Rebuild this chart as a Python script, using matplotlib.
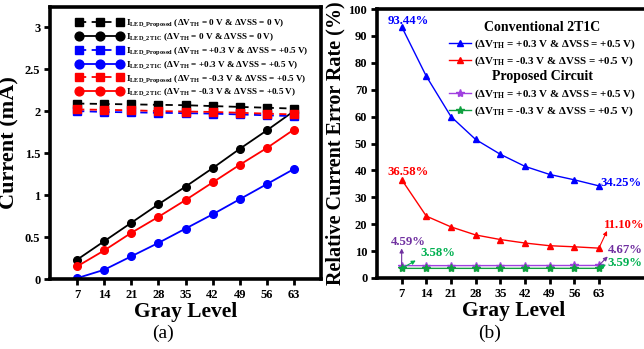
import matplotlib
matplotlib.use("Agg")
import matplotlib.pyplot as plt

plt.rcParams['font.family'] = ['Liberation Serif', 'DejaVu Serif']
plt.rcParams['font.weight'] = 'bold'
plt.rcParams['mathtext.fontset'] = 'custom'
plt.rcParams['mathtext.rm'] = 'Liberation Serif:bold'
plt.rcParams['mathtext.bf'] = 'Liberation Serif:bold'
plt.rcParams['mathtext.it'] = 'Liberation Serif:bold'
plt.rcParams['mathtext.default'] = 'bf'

gray = [7, 14, 21, 28, 35, 42, 49, 56, 63]

# (a) currents in mA
prop_0 = [2.09, 2.085, 2.08, 2.075, 2.07, 2.06, 2.05, 2.04, 2.03]
t2_0 = [0.23, 0.45, 0.67, 0.89, 1.10, 1.32, 1.55, 1.77, 2.00]
prop_p = [2.00, 1.99, 1.985, 1.98, 1.975, 1.97, 1.96, 1.95, 1.94]
t2_p = [0.01, 0.11, 0.27, 0.43, 0.60, 0.77, 0.95, 1.13, 1.31]
prop_n = [2.02, 2.015, 2.01, 2.00, 1.995, 1.99, 1.98, 1.97, 1.96]
t2_n = [0.15, 0.34, 0.55, 0.74, 0.94, 1.15, 1.36, 1.56, 1.78]

# (b) relative current error rate (%)
err_conv_p = [93.44, 75.0, 60.0, 51.5, 46.0, 41.5, 38.5, 36.5, 34.25]
err_conv_n = [36.58, 23.0, 19.0, 16.0, 14.3, 13.0, 12.0, 11.6, 11.10]
err_prop_p = [4.59, 4.6, 4.6, 4.61, 4.62, 4.63, 4.64, 4.65, 4.67]
err_prop_n = [3.58, 3.58, 3.58, 3.58, 3.58, 3.59, 3.59, 3.59, 3.59]

leg_a = [
    r"I$_{LED\_Proposed}$ (ΔV$_{TH}$ = 0 V & ΔVSS = 0 V)",
    r"I$_{LED\_2T1C}$ (ΔV$_{TH}$ = 0 V & ΔVSS = 0 V)",
    r"I$_{LED\_Proposed}$ (ΔV$_{TH}$ = +0.3 V & ΔVSS = +0.5 V)",
    r"I$_{LED\_2T1C}$ (ΔV$_{TH}$ = +0.3 V & ΔVSS = +0.5 V)",
    r"I$_{LED\_Proposed}$ (ΔV$_{TH}$ = -0.3 V & ΔVSS = +0.5 V)",
    r"I$_{LED\_2T1C}$ (ΔV$_{TH}$ = -0.3 V & ΔVSS = +0.5 V)",
]
leg_b = [r"(ΔV$_{TH}$ = +0.3 V & ΔVSS = +0.5 V)",
         r"(ΔV$_{TH}$ = -0.3 V & ΔVSS = +0.5 V)"]

W, H = 644, 349
fig = plt.figure(figsize=(W / 100, H / 100), dpi=100)

def box(l, t, r, b):
    return [l / W, 1 - b / H, (r - l) / W, (b - t) / H]

def style(ax):
    for s in ax.spines.values():
        s.set_linewidth(2.6)
    ax.tick_params(direction='out', length=4, width=2, labelsize=9, pad=3)
    for lab in ax.get_xticklabels() + ax.get_yticklabels():
        lab.set_fontweight('bold')

# ---- panel (a)
ax1 = fig.add_axes(box(50, 7, 321, 279))
ms = 5.5
ax1.plot(gray, prop_0, color='black', ls=(0, (4, 3)), lw=1.3, marker='s', ms=ms, label=leg_a[0])
ax1.plot(gray, t2_0, color='black', ls='-', lw=1.3, marker='o', ms=ms, label=leg_a[1])
ax1.plot(gray, prop_p, color='blue', ls=(0, (4, 3)), lw=1.3, marker='s', ms=ms, label=leg_a[2])
ax1.plot(gray, t2_p, color='blue', ls='-', lw=1.3, marker='o', ms=ms, label=leg_a[3])
ax1.plot(gray, prop_n, color='red', ls=(0, (4, 3)), lw=1.3, marker='s', ms=ms, label=leg_a[4])
ax1.plot(gray, t2_n, color='red', ls='-', lw=1.3, marker='o', ms=ms, label=leg_a[5])
ax1.set_xlim(0, 70)
ax1.set_ylim(0, 3.24)
ax1.set_xticks(gray)
ax1.set_yticks([0, 0.5, 1, 1.5, 2, 2.5, 3])
ax1.set_yticklabels(['0', '0.5', '1', '1.5', '2', '2.5', '3'])
style(ax1)
ax1.set_xlabel('Gray Level', fontsize=15.5, fontweight='bold', labelpad=1)
ax1.set_ylabel('Current (mA)', fontsize=16, fontweight='bold', labelpad=4)
ax1.legend(loc='upper left', bbox_to_anchor=(0.075, 0.985), frameon=False, numpoints=3,
           handlelength=5.0, handletextpad=0.4, labelspacing=0.22, borderpad=0.2,
           markerscale=1.15, prop={'size': 6.6, 'weight': 'bold'})

# ---- panel (b)
ax2 = fig.add_axes(box(377, 9, 650, 278))
l1, = ax2.plot(gray, err_conv_p, color='blue', lw=1.0, marker='^', ms=5)
l2, = ax2.plot(gray, err_conv_n, color='red', lw=1.0, marker='^', ms=5)
l3, = ax2.plot(gray, err_prop_p, color='#A040E0', lw=1.0, marker='*', ms=6)
l4, = ax2.plot(gray, err_prop_n, color='#10A040', lw=1.0, marker='*', ms=6)
ax2.set_xlim(0, 77.5)
ax2.set_ylim(0, 100)
ax2.set_xticks(gray)
ax2.set_yticks(range(0, 101, 10))
style(ax2)
ax2.set_xlabel('Gray Level', fontsize=15.5, fontweight='bold', labelpad=1)
ax2.set_ylabel('Relative Current Error Rate (%)', fontsize=14.5, fontweight='bold', labelpad=2)

leg_kw = dict(loc='upper left', frameon=False, handlelength=2.0,
              handletextpad=0.3, labelspacing=0.35, borderpad=0.2,
              prop={'size': 7.9, 'weight': 'bold'},
              title_fontproperties={'size': 10, 'weight': 'bold'})
lgA = ax2.legend([l1, l2], leg_b, title='Conventional 2T1C',
                 bbox_to_anchor=(0.235, 0.985), **leg_kw)
ax2.add_artist(lgA)
ax2.legend([l3, l4], leg_b, title='Proposed Circuit',
           bbox_to_anchor=(0.235, 0.80), **leg_kw)

def lab(v):
    return f"{v:.2f}%"

fs = 9.2
ax2.annotate(lab(err_conv_p[0]), (gray[0], err_conv_p[0]), xytext=(5, 0),
             textcoords='offset points', ha='center', va='bottom', color='blue', fontsize=fs)
ax2.annotate(lab(err_conv_n[0]), (gray[0], err_conv_n[0]), xytext=(5, 1),
             textcoords='offset points', ha='center', va='bottom', color='red', fontsize=fs)
ax2.annotate(lab(err_conv_p[-1]), (gray[-1], err_conv_p[-1]), xytext=(1, -2),
             textcoords='offset points', ha='left', va='bottom', color='blue', fontsize=fs)

arrow = lambda c: dict(arrowstyle='-|>', color=c, lw=0.8, mutation_scale=6, shrinkA=0, shrinkB=0)
ax2.annotate('', xy=(65.3, 17.5), xytext=(gray[-1], err_conv_n[-1]), arrowprops=arrow('red'))
ax2.text(64.5, 17.3, lab(err_conv_n[-1]), color='red', fontsize=fs, ha='left', va='bottom')
ax2.annotate('', xy=(65.5, 8.0), xytext=(gray[-1], err_prop_p[-1]), arrowprops=arrow('#7030A0'))
ax2.text(65.5, 10.5, lab(err_prop_p[-1]), color='#7030A0', fontsize=fs, ha='left', va='center')
ax2.annotate('', xy=(65.0, 5.0), xytext=(gray[-1], err_prop_n[-1]), arrowprops=arrow('#00B050'))
ax2.text(65.3, 5.5, lab(err_prop_n[-1]), color='#00B050', fontsize=fs, ha='left', va='center')
ax2.annotate('', xy=(gray[0], 11.0), xytext=(gray[0], err_prop_p[0]), arrowprops=arrow('#7030A0'))
ax2.text(gray[0] + 2.0, 13.5, lab(err_prop_p[0]), color='#7030A0', fontsize=fs, ha='center', va='center')
ax2.annotate('', xy=(11.0, 6.5), xytext=(gray[0], err_prop_n[0]), arrowprops=arrow('#00B050'))
ax2.text(12.3, 9.2, lab(err_prop_n[0]), color='#00B050', fontsize=fs, ha='left', va='center')

fig.text(163 / W, 1 - 333 / H, '(a)', ha='center', va='center', fontsize=14, fontweight='normal')
fig.text(490 / W, 1 - 333 / H, '(b)', ha='center', va='center', fontsize=14, fontweight='normal')

fig.savefig('out.png', dpi=100)
